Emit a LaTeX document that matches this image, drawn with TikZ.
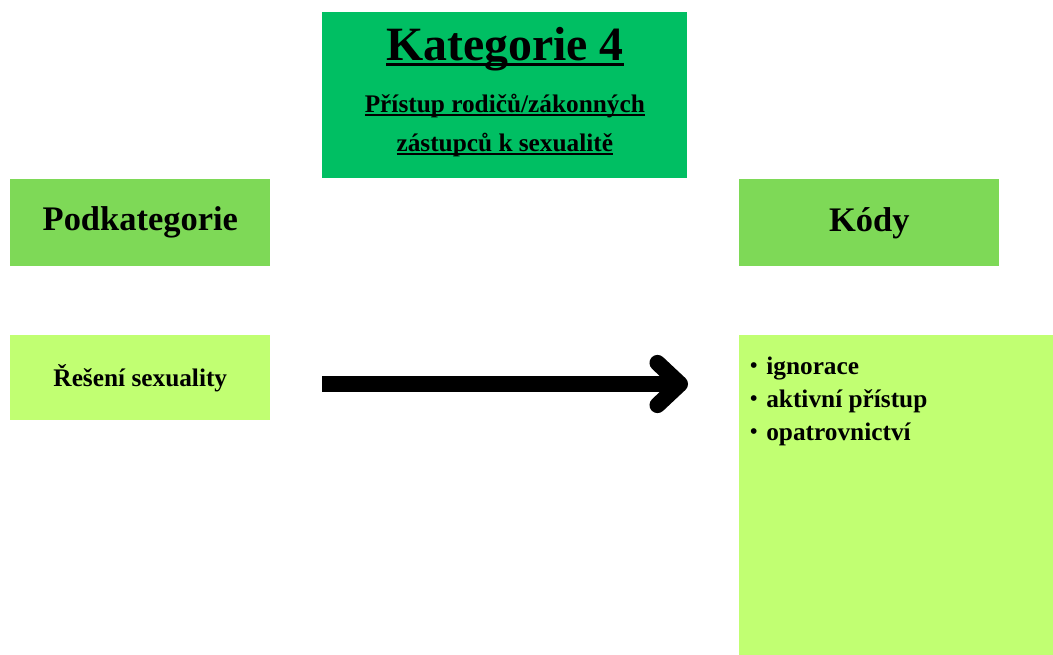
\documentclass[tikz,border=0pt]{standalone}
\usepackage{fontspec}
\setmainfont{Liberation Serif}
\usetikzlibrary{arrows.meta}

\definecolor{katgreen}{RGB}{0,191,99}
\definecolor{headgreen}{RGB}{126,217,87}
\definecolor{itemgreen}{RGB}{193,255,114}

% underline sitting just below the baseline
\newsavebox{\podtrhbox}
\newcommand{\podtrh}[3]{\sbox{\podtrhbox}{#3}\rlap{\rule[-\dimexpr#1+#2\relax]{\wd\podtrhbox}{#2}}\usebox{\podtrhbox}}
\newcommand{\odrazka}{\raisebox{0.1em}{\fontsize{15}{15}\selectfont\textbullet}\hspace{0.35em}}

\begin{document}
\begin{tikzpicture}[x=0.025cm,y=-0.025cm,
  box/.style={anchor=north west,inner sep=0pt,align=center,font=\bfseries},
  headbox/.style={box,fill=headgreen,minimum width=6.5cm,minimum height=2.175cm,font=\bfseries\fontsize{24.5}{28}\selectfont},
  itembox/.style={box,fill=itemgreen}]
\useasboundingbox (0,0) rectangle (1053,655);

% Category on top.
\node[box,fill=katgreen,minimum width=9.125cm,minimum height=4.15cm,text depth=8pt] (kat) at (322,12)
  {\fontsize{34}{40}\selectfont\podtrh{1.5pt}{1.8pt}{Kategorie 4}\\[15pt]
   \fontsize{18}{22}\selectfont\podtrh{1.2pt}{1.3pt}{Přístup rodičů/zákonných}\\[10pt]
   \fontsize{18}{22}\selectfont\podtrh{1.2pt}{1.3pt}{zástupců k sexualitě}};

% Column headings.
\node[headbox] (podkat) at (10,179) {Podkategorie};
\node[headbox] (kody) at (739,179) {Kódy};

% Subcategory and its codes.
\node[itembox,minimum width=6.5cm,minimum height=2.125cm,font=\bfseries\fontsize{18}{22}\selectfont] (reseni) at (10,335) {Řešení sexuality};
\node[itembox,minimum width=7.85cm,minimum height=8cm] (seznam) at (739,335) {};
\node[anchor=north west,inner sep=0pt,align=left,font=\bfseries\fontsize{18}{23.5}\selectfont]
  (kodlist) at ([xshift=0.27cm,yshift=-0.55cm]seznam.north west)
  {\odrazka ignorace\\ \odrazka aktivní přístup\\ \odrazka opatrovnictví};

% Big arrow between the columns.
\coordinate (sipstart) at (322,384);
\coordinate (sipkonec) at (688,384);
\draw[line width=11.4pt,-{Straight Barb[length=16pt,width=30pt,round]}] (sipstart) -- (sipkonec);

\end{tikzpicture}
\end{document}
